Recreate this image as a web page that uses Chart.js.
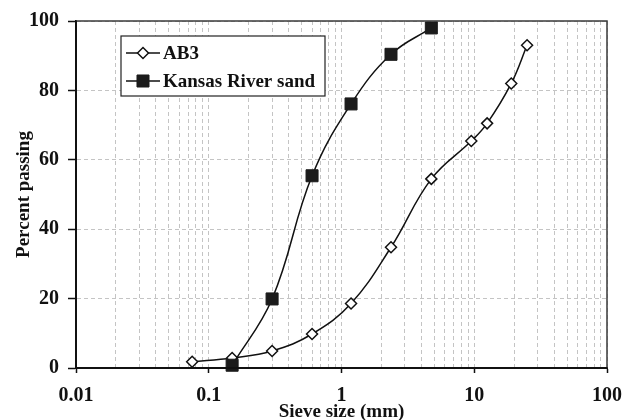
<!DOCTYPE html>
<html>
<head>
<meta charset="utf-8">
<script src="https://cdn.jsdelivr.net/npm/chart.js@4"></script>
<style>
  html, body { margin: 0; padding: 0; background: #fff; }
  #wrap { width: 633px; height: 420px; }
</style>
</head>
<body>
<div id="wrap"><canvas id="chartGradation"></canvas></div>
<script>
// sieve sizes (mm) and percent passing
const ab3Sizes = [0.075, 0.15, 0.3, 0.6, 1.18, 2.36, 4.75, 9.5, 12.5, 19, 25];
const ab3Passing = [1.8, 2.9, 4.9, 9.8, 18.6, 34.8, 54.5, 65.4, 70.5, 82, 93];
const sandSizes = [0.15, 0.3, 0.6, 1.18, 2.36, 4.75];
const sandPassing = [0.8, 19.9, 55.4, 76.1, 90.4, 98];
const seriesNames = ["AB3", "Kansas River sand"];
const xMajorTicks = [0.01, 0.1, 1, 10, 100];
const yTicks = [0, 20, 40, 60, 80, 100];

const FONT = "'Liberation Serif', 'Times New Roman', serif";
const isMajor = (v) => xMajorTicks.some((m) => Math.abs(v - m) < m * 1e-6);

// minor grid lines 2..9 inside every decade
const xGridValues = [];
xMajorTicks.forEach((m, i) => {
  xGridValues.push(m);
  if (i < xMajorTicks.length - 1) {
    for (let k = 2; k <= 9; k++) xGridValues.push(+(m * k).toPrecision(3));
  }
});

const toPoints = (xs, ys) => xs.map((x, i) => ({ x: x, y: ys[i] }));

// frame on all sides + boxed legend inside plot
const framePlugin = {
  id: "frame",
  afterDatasetsDraw(chart) {
    const { ctx, chartArea: a } = chart;
    ctx.save();
    ctx.setLineDash([]);
    ctx.strokeStyle = "#3a3a3a";
    ctx.lineWidth = 1.5;
    ctx.beginPath();
    ctx.moveTo(a.left, a.top);
    ctx.lineTo(a.right, a.top);
    ctx.lineTo(a.right, a.bottom);
    ctx.stroke();
    ctx.strokeStyle = "#111";
    ctx.lineWidth = 2;
    ctx.beginPath();
    ctx.moveTo(a.left, a.top);
    ctx.lineTo(a.left, a.bottom);
    ctx.lineTo(a.right, a.bottom);
    ctx.stroke();

    // legend box
    const bx = a.left + 45, by = a.top + 15, bw = 204, bh = 60;
    ctx.fillStyle = "#fff";
    ctx.fillRect(bx, by, bw, bh);
    ctx.strokeStyle = "#222";
    ctx.lineWidth = 1.2;
    ctx.strokeRect(bx, by, bw, bh);

    const rows = [by + 17, by + 45];
    chart.data.datasets.forEach((ds, i) => {
      const y = rows[i];
      const mx = bx + 22;
      ctx.strokeStyle = ds.borderColor;
      ctx.lineWidth = ds.borderWidth;
      ctx.beginPath();
      ctx.moveTo(bx + 5, y);
      ctx.lineTo(bx + 39, y);
      ctx.stroke();
      ctx.lineWidth = ds.pointBorderWidth;
      ctx.strokeStyle = ds.pointBorderColor;
      ctx.fillStyle = ds.pointBackgroundColor;
      ctx.beginPath();
      if (ds.pointStyle === "rectRot") {
        const r = ds.pointRadius;
        ctx.moveTo(mx - r, y);
        ctx.lineTo(mx, y - r);
        ctx.lineTo(mx + r, y);
        ctx.lineTo(mx, y + r);
        ctx.closePath();
      } else {
        const s = ds.pointRadius * Math.SQRT1_2;
        ctx.rect(mx - s, y - s, 2 * s, 2 * s);
      }
      ctx.fill();
      ctx.stroke();

      ctx.fillStyle = "#111";
      ctx.font = "bold 19px " + FONT;
      ctx.textAlign = "left";
      ctx.textBaseline = "middle";
      ctx.fillText(ds.label, bx + 42, y + 1);
    });
    ctx.restore();
  },
};

const chartGradation = document.getElementById("chartGradation");
new Chart(chartGradation, {
  type: "line",
  data: {
    datasets: [
      {
        label: seriesNames[0],
        data: toPoints(ab3Sizes, ab3Passing),
        borderColor: "#111",
        borderWidth: 1.5,
        tension: 0.4,
        pointStyle: "rectRot",
        pointRadius: 5.5,
        pointHoverRadius: 5.5,
        pointBackgroundColor: "#fff",
        pointBorderColor: "#111",
        pointBorderWidth: 1.5,
        clip: false,
        order: 1,
      },
      {
        label: seriesNames[1],
        data: toPoints(sandSizes, sandPassing),
        borderColor: "#111",
        borderWidth: 1.5,
        tension: 0.4,
        pointStyle: "rect",
        pointRadius: 8.5,
        pointHoverRadius: 8.5,
        pointBackgroundColor: "#1b1b1b",
        pointBorderColor: "#1b1b1b",
        pointBorderWidth: 1,
        clip: false,
        order: 0,
      },
    ],
  },
  options: {
    responsive: true,
    maintainAspectRatio: false,
    animation: false,
    layout: { padding: { top: 19, right: 26, left: 0, bottom: 0 } },
    plugins: {
      legend: { display: false },
      tooltip: { enabled: false },
    },
    scales: {
      x: {
        type: "logarithmic",
        min: 0.01,
        max: 100,
        afterBuildTicks: (scale) => {
          scale.ticks = xGridValues.map((v) => ({ value: v }));
        },
        afterFit: (scale) => {
          scale.height = 52;
        },
        ticks: {
          autoSkip: false,
          maxRotation: 0,
          padding: 11,
          color: "#111",
          font: { family: FONT, size: 20, weight: "bold" },
          callback: (v) => (isMajor(v) ? String(v) : ""),
        },
        grid: {
          color: "#c4c4c4",
          lineWidth: 1,
          tickLength: 5,
          tickBorderDash: [1, 0],
          tickWidth: 1.5,
          tickColor: (ctx) =>
            ctx.tick && isMajor(ctx.tick.value) ? "#111" : "rgba(0,0,0,0)",
        },
        border: { color: "#111", width: 2, dash: [4, 3] },
        title: {
          display: true,
          text: "Sieve size (mm)",
          color: "#111",
          font: { family: FONT, size: 19, weight: "bold", lineHeight: 1 },
          padding: { top: 0, bottom: -2 },
        },
      },
      y: {
        min: 0,
        max: 100,
        afterBuildTicks: (scale) => {
          scale.ticks = yTicks.map((v) => ({ value: v }));
        },
        afterFit: (scale) => {
          scale.width = 76;
        },
        ticks: {
          padding: 9,
          color: "#111",
          font: { family: FONT, size: 20, weight: "bold" },
        },
        grid: {
          color: "#c4c4c4",
          lineWidth: 1,
          tickLength: 8,
          tickBorderDash: [1, 0],
          tickWidth: 1.5,
          tickColor: "#111",
        },
        border: { color: "#111", width: 2, dash: [4, 3] },
        title: {
          display: true,
          text: "Percent passing",
          color: "#111",
          font: { family: FONT, size: 19, weight: "bold", lineHeight: 1 },
          padding: { top: 15, bottom: 0 },
        },
      },
    },
  },
  plugins: [framePlugin],
});
</script>
</body>
</html>
